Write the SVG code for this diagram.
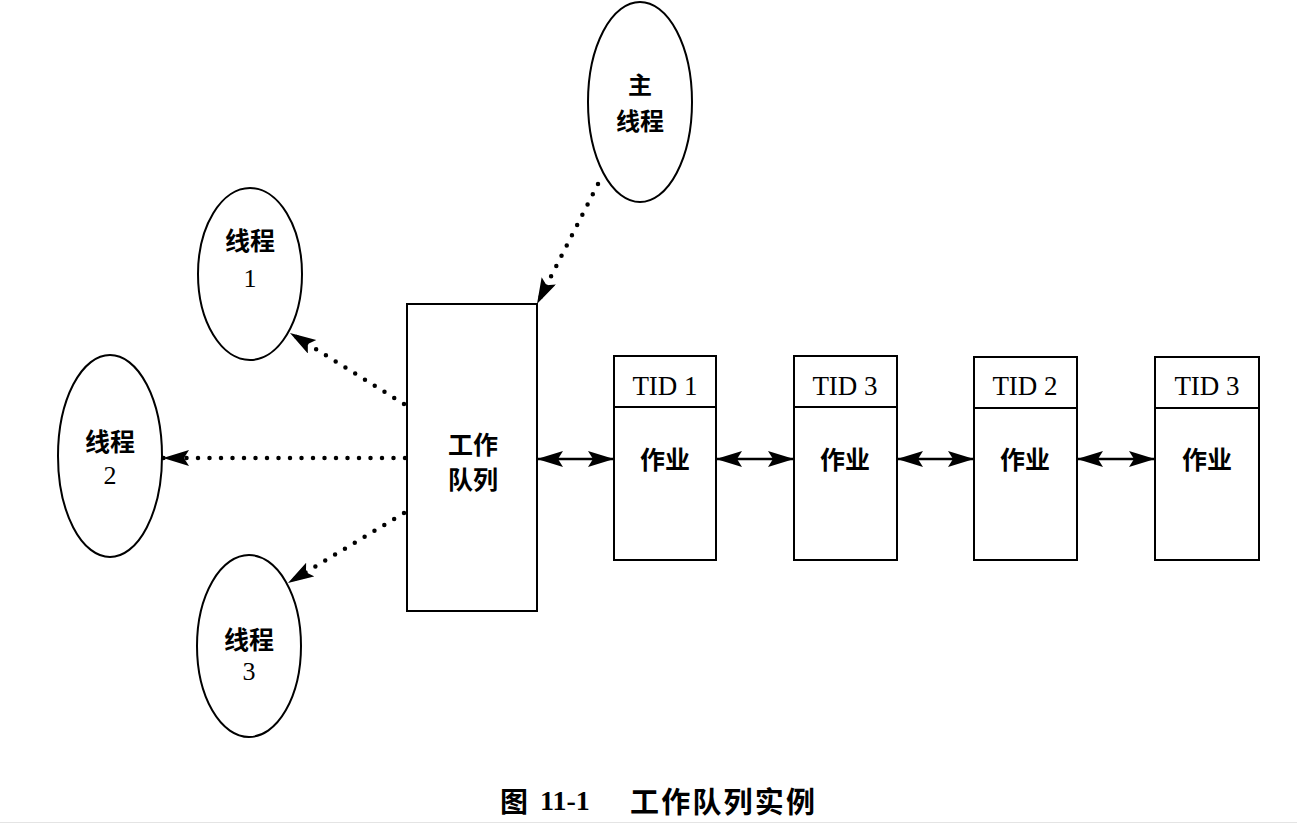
<svg xmlns="http://www.w3.org/2000/svg" width="1297" height="823" viewBox="0 0 1297 823">
<style>
.shape{fill:#fff;stroke:#000;stroke-width:2}
.cjk{font-family:"Noto Sans CJK SC","Noto Sans",sans-serif;font-weight:bold;font-size:25px;text-anchor:middle;dominant-baseline:central;fill:#000}
.num{font-family:"Liberation Serif","Times New Roman",serif;font-size:26px;text-anchor:middle;dominant-baseline:central;fill:#000}
.tid{font-family:"Liberation Serif","Times New Roman",serif;font-size:27px;text-anchor:middle;dominant-baseline:central;fill:#000}
.dot{fill:none;stroke:#000;stroke-width:4.5;stroke-linecap:round;stroke-dasharray:0 11.5}
.dbl{fill:none;stroke:#000;stroke-width:2.5}
</style>
<defs>
<marker id="ah" markerUnits="userSpaceOnUse" markerWidth="28" markerHeight="18" refX="26" refY="8" orient="auto-start-reverse" viewBox="0 0 28 18">
<path d="M0,0 L26,8 L0,16 L5,8 Z" fill="#000"/>
</marker>
</defs>
<rect x="0" y="0" width="1297" height="823" fill="#fff"/>
<rect x="0" y="822" width="1297" height="1" fill="#e4e4e4"/>

<g id="main-thread">
<ellipse class="shape" cx="640" cy="102" rx="52" ry="100"/>
<text class="cjk" x="640" y="83" style="font-size:24px">主</text>
<text class="cjk" x="640" y="119" style="font-size:24px">线程</text>
</g>
<g id="thread1">
<ellipse class="shape" cx="250" cy="274" rx="52" ry="86"/>
<text class="cjk" x="250" y="239">线程</text>
<text class="num" x="250" y="278">1</text>
</g>
<g id="thread2">
<ellipse class="shape" cx="110" cy="456" rx="52" ry="101"/>
<text class="cjk" x="110" y="440">线程</text>
<text class="num" x="110" y="475">2</text>
</g>
<g id="thread3">
<ellipse class="shape" cx="249" cy="646" rx="52" ry="91"/>
<text class="cjk" x="249" y="638">线程</text>
<text class="num" x="249" y="671">3</text>
</g>
<g id="work-queue">
<rect class="shape" x="407" y="304" width="130" height="307"/>
<text class="cjk" x="473" y="443">工作</text>
<text class="cjk" x="473" y="478">队列</text>
</g>
<g id="job1">
<rect class="shape" x="614" y="356" width="102" height="204"/>
<line class="shape" x1="614" y1="407" x2="716" y2="407"/>
<text class="tid" x="665" y="386">TID 1</text>
<text class="cjk" x="665" y="458">作业</text>
</g>
<g id="job2">
<rect class="shape" x="794" y="356" width="103" height="204"/>
<line class="shape" x1="794" y1="407" x2="897" y2="407"/>
<text class="tid" x="845" y="386">TID 3</text>
<text class="cjk" x="845" y="458">作业</text>
</g>
<g id="job3">
<rect class="shape" x="974" y="357" width="103" height="203"/>
<line class="shape" x1="974" y1="408" x2="1077" y2="408"/>
<text class="tid" x="1025" y="386">TID 2</text>
<text class="cjk" x="1025" y="458">作业</text>
</g>
<g id="job4">
<rect class="shape" x="1155" y="357" width="104" height="203"/>
<line class="shape" x1="1155" y1="408" x2="1259" y2="408"/>
<text class="tid" x="1207" y="386">TID 3</text>
<text class="cjk" x="1207" y="458">作业</text>
</g>

<g id="connectors">
<path class="dot" d="M598,184 L537,304" marker-end="url(#ah)"/>
<path class="dot" d="M404,404 L290,333" marker-end="url(#ah)"/>
<path class="dot" d="M405,458 L163,458" marker-end="url(#ah)"/>
<path class="dot" d="M404,513 L288,583" marker-end="url(#ah)"/>
<path class="dbl" d="M537,459 L614,459" marker-start="url(#ah)" marker-end="url(#ah)"/>
<path class="dbl" d="M716,459 L794,459" marker-start="url(#ah)" marker-end="url(#ah)"/>
<path class="dbl" d="M897,459 L974,459" marker-start="url(#ah)" marker-end="url(#ah)"/>
<path class="dbl" d="M1077,459 L1155,459" marker-start="url(#ah)" marker-end="url(#ah)"/>
</g>

<g id="caption">
<text x="500" y="800" font-family="Noto Sans CJK SC, sans-serif" font-weight="bold" font-size="28" dominant-baseline="central">图</text>
<text x="540" y="800" font-family="Liberation Serif, serif" font-weight="bold" font-size="28" dominant-baseline="central">11-1</text>
<text x="630" y="800" font-family="Noto Sans CJK SC, sans-serif" font-weight="bold" font-size="29" dominant-baseline="central" textLength="185" lengthAdjust="spacing">工作队列实例</text>
</g>
</svg>
